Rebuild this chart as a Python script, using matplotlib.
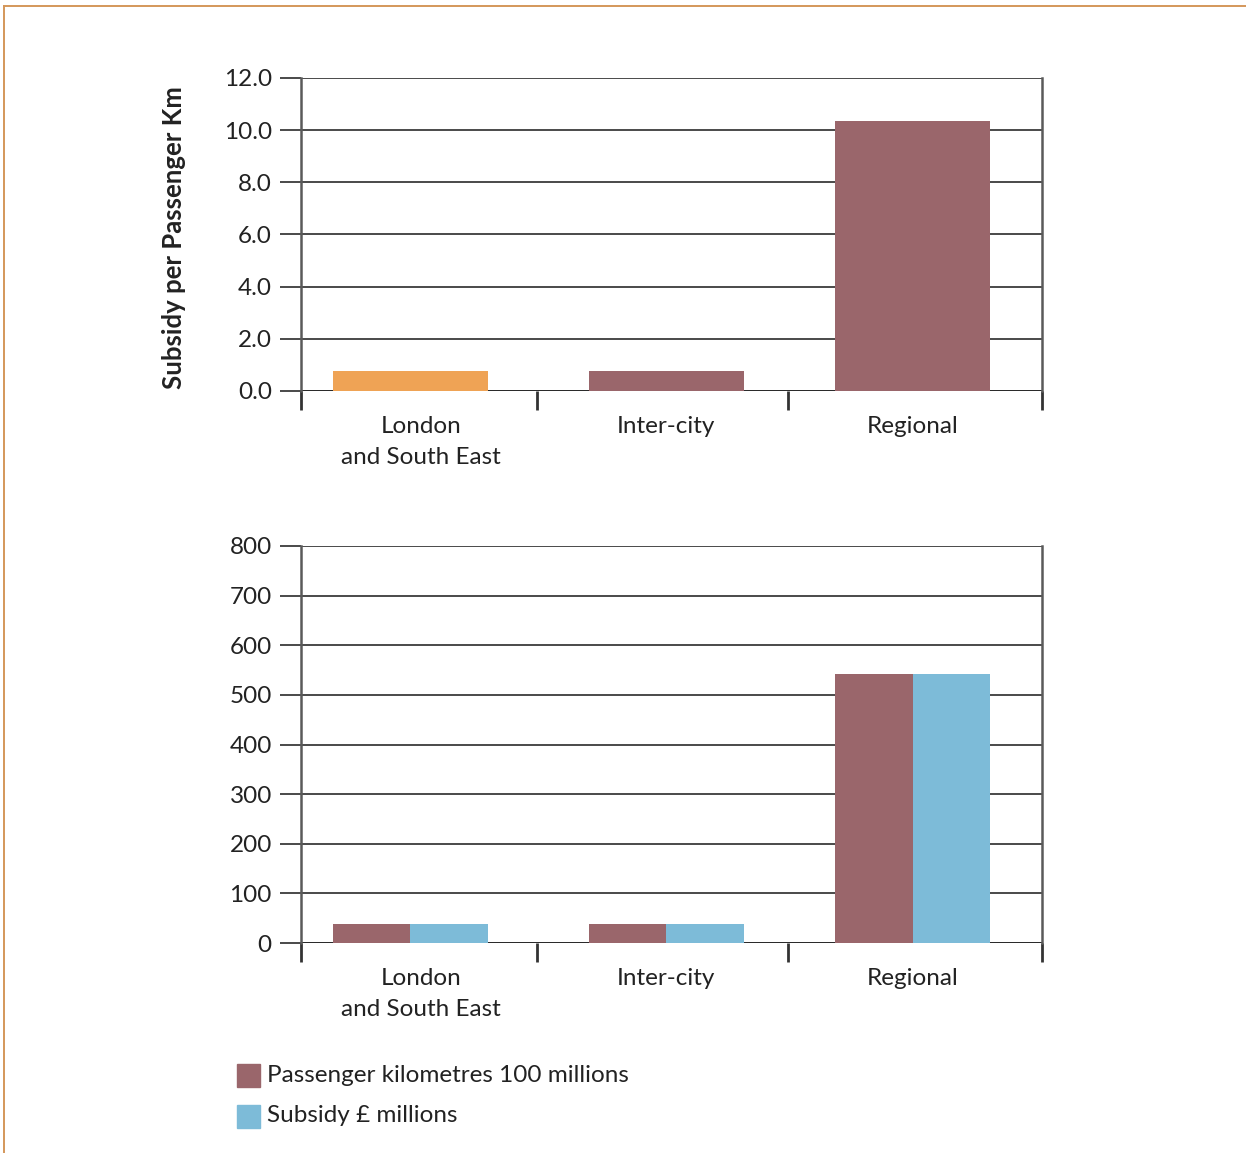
import matplotlib
matplotlib.use("Agg")
import matplotlib.pyplot as plt
from matplotlib.lines import Line2D
from matplotlib.patches import Rectangle

plt.rcParams['font.family'] = ['Lato', 'DejaVu Sans']

# Data
categories = ["London\nand South East", "Inter-city", "Regional"]
subsidy_per_km = [0.77, 0.77, 10.35]
passenger_km = [38, 38, 542]      # 100 millions
subsidy_total = [38, 38, 542]     # £ millions
top_ticks = [0.0, 2.0, 4.0, 6.0, 8.0, 10.0, 12.0]
bottom_ticks = [0, 100, 200, 300, 400, 500, 600, 700, 800]

c_orange = "#EFA355"
c_maroon = "#9A666B"
c_blue = "#7DBBD8"
c_grid = "#2b2b2b"
c_spine = "#5a5a5a"
c_text = "#222222"

W, H = 1246, 1153
fig = plt.figure(figsize=(W / 100, H / 100), dpi=100)
fig.patch.set_facecolor("white")

# Page frame (top and left edges)
fig.add_artist(Line2D([4 / W, 1], [1 - 6 / H, 1 - 6 / H], color="#D4975A", lw=1.4))
fig.add_artist(Line2D([4 / W, 4 / W], [1 - 6 / H, 0], color="#D4975A", lw=1.4))

# Layout of the category slots along x
bar_pos = [0.0, 1.01, 1.98]
label_pos = [0.043, 1.01, 1.98]
xlim = (-0.43, 2.49)
sep = [xlim[0], 0.5, 1.49, xlim[1]]
FS = 17.5


def style_axes(ax, ticks, ymax, fmt):
    ax.set_xlim(*xlim)
    ax.set_ylim(0, ymax)
    ax.set_yticks(ticks)
    ax.set_yticklabels([fmt(t) for t in ticks])
    ax.yaxis.grid(True, color=c_grid, lw=1.2)
    ax.set_axisbelow(True)
    for s in ["top", "bottom"]:
        ax.spines[s].set_visible(False)
    for s in ["left", "right"]:
        ax.spines[s].set_color(c_spine)
        ax.spines[s].set_linewidth(1.8)
    ax.tick_params(axis="y", direction="out", length=15, width=1.2, color=c_grid,
                   pad=6, labelsize=FS, labelcolor=c_text)
    ax.set_xticks(label_pos)
    ax.set_xticklabels(categories, fontsize=FS, color=c_text, linespacing=1.6)
    ax.tick_params(axis="x", which="major", length=0, pad=18)
    ax.set_xticks(sep, minor=True)
    ax.tick_params(axis="x", which="minor", direction="out", length=14, width=2,
                   color="#333333")
    # baseline at zero
    ax.axhline(0, color=c_grid, lw=1.4, zorder=1)


# Top chart: subsidy per passenger km
ax1 = fig.add_axes([301 / W, 1 - 391 / H, 741 / W, 313 / H])
style_axes(ax1, top_ticks, 12, lambda t: f"{t:.1f}")
bw = 0.61
ax1.bar(bar_pos, subsidy_per_km, width=bw, color=[c_orange, c_maroon, c_maroon], zorder=2)
ax1.set_ylabel("Subsidy per Passenger Km", fontsize=18.5, fontweight="bold",
               color=c_text)
ax1.yaxis.set_label_coords(-0.155, 0.49)

# Bottom chart: passenger km and total subsidy
ax2 = fig.add_axes([301 / W, 1 - 943 / H, 741 / W, 397 / H])
style_axes(ax2, bottom_ticks, 800, lambda t: f"{t:d}")
hw = bw / 2
ax2.bar([p - hw / 2 for p in bar_pos], passenger_km, width=hw, color=c_maroon, zorder=2)
ax2.bar([p + hw / 2 for p in bar_pos], subsidy_total, width=hw, color=c_blue, zorder=2)

# Legend
legend_items = [(c_maroon, "Passenger kilometres 100 millions"),
                (c_blue, "Subsidy £ millions")]
for i, (col, lab) in enumerate(legend_items):
    yc = 1075 + i * 41
    fig.add_artist(Rectangle((237 / W, 1 - (yc + 11.5) / H), 23 / W, 23 / H,
                             color=col, transform=fig.transFigure))
    fig.text(267 / W, 1 - yc / H, lab, fontsize=FS, color=c_text,
             va="center", ha="left")

fig.savefig("out.png", dpi=100, facecolor="white")
